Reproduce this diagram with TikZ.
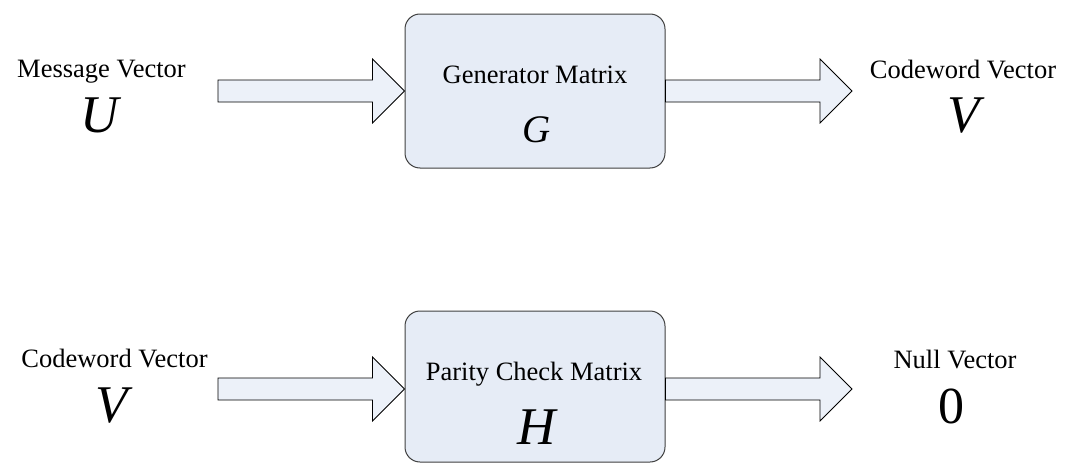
\documentclass[tikz,border=0pt]{standalone}
\usepackage{fontspec}
\setmainfont{Liberation Serif}
\usetikzlibrary{calc}
\definecolor{boxfill}{RGB}{230,236,246}
\definecolor{arrfill}{RGB}{236,241,249}
\definecolor{boxline}{RGB}{64,64,64}
\tikzset{
  block/.style={draw=boxline, line width=1pt, fill=boxfill, rounded corners=15pt,
    minimum width=260pt, minimum height=154pt, inner sep=0pt},
  lbl/.style={anchor=base, inner sep=0pt, font=\fontsize{26.5}{30}\selectfont},
  sym/.style={anchor=base, inner sep=0pt, font=\fontsize{53}{60}\selectfont\itshape},
  arr/.style={draw=black, line width=0.8pt, fill=arrfill, line join=miter}
}
\newcommand\blockarrow[2]{%
  \draw[arr] ($(#1)+(0,-11)$) -- ($(#2)+(-32,-11)$) -- ($(#2)+(-32,-32)$) -- (#2)
    -- ($(#2)+(-32,32)$) -- ($(#2)+(-32,11)$) -- ($(#1)+(0,11)$) -- cycle;}
\begin{document}
\begin{tikzpicture}[x=1pt,y=-1pt]
\useasboundingbox (0,0) rectangle (1072,463);
% top row
\node[block] (g) at (535,91) {};
\node[block, minimum height=151pt] (h) at (535,386.5) {};
\coordinate (uin) at (218,91);
\coordinate (vout) at (852,91);
\coordinate (vin) at (218,389);
\coordinate (nout) at (852,389);
\blockarrow{uin}{g.west}
\blockarrow{g.east}{vout}
\blockarrow{vin}{h.west|-vin}
\blockarrow{h.east|-nout}{nout}
% labels
\node[lbl] (msg) at (101.5,77) {Message Vector};
\node[sym] (u) at (100,132) {U};
\node[lbl] (gt) at (535,83) {Generator Matrix};
\node[sym, font=\fontsize{39}{44}\selectfont\itshape] (gs) at (537,142) {G};
\node[lbl] (cw1) at (963,78) {Codeword Vector};
\node[sym] (v1) at (964,132) {V};
\node[lbl] (cw2) at (114.5,367) {Codeword Vector};
\node[sym] (v2) at (112,422) {V};
\node[lbl] (ht) at (534,380) {Parity Check Matrix};
\node[sym] (hs) at (537,444) {H};
\node[lbl] (nv) at (955,368) {Null Vector};
\node[sym, font=\fontsize{52}{60}\selectfont] (z) at (951,423) {0};
\end{tikzpicture}
\end{document}
